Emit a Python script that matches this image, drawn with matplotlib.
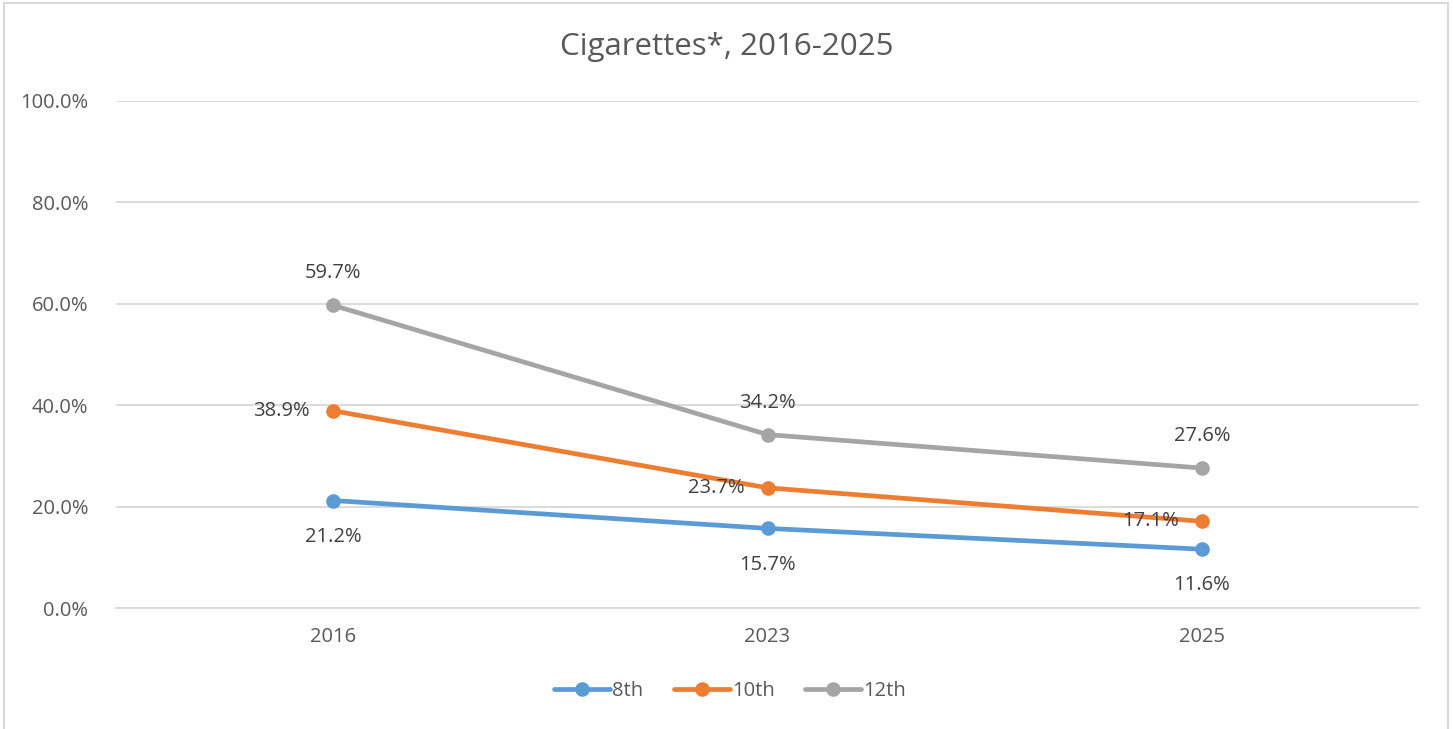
import matplotlib
matplotlib.use("Agg")
import matplotlib.pyplot as plt
from matplotlib.patches import Rectangle

years = ["2016", "2023", "2025"]
grade_8 = [21.2, 15.7, 11.6]
grade_10 = [38.9, 23.7, 17.1]
grade_12 = [59.7, 34.2, 27.6]
series_names = ["8th", "10th", "12th"]
colors = ["#5B9BD5", "#ED7D31", "#A5A5A5"]
yticks = [0, 20, 40, 60, 80, 100]

plt.rcParams['font.family'] = ['Open Sans', 'DejaVu Sans']
text_color = "#595959"

fig = plt.figure(figsize=(14.53, 7.29), dpi=100)
fig.patches.append(Rectangle((4/1453, -0.1), 1444/1453, (726/729) + 0.1,
                             transform=fig.transFigure, fill=False,
                             edgecolor="#D9D9D9", linewidth=1.5))
ax = fig.add_axes([116/1453, 121/729, 1303/1453, 507/729])

x = list(range(len(years)))
series = [grade_8, grade_10, grade_12]
for vals, name, c in zip(series, series_names, colors):
    ax.plot(x, vals, color=c, linewidth=3.4, marker="o", markersize=9.5,
            label=name, solid_capstyle="round", zorder=3)

label_fs = 14.5
for xi, v in zip(x, grade_8):
    ax.annotate(f"{v:.1f}%", (xi, v), xytext=(0, -26), textcoords="offset points",
                ha="center", va="center", fontsize=label_fs, color="#404040")
for xi, v in zip(x, grade_10):
    ax.annotate(f"{v:.1f}%", (xi, v), xytext=(-37, 0), textcoords="offset points",
                ha="center", va="center", fontsize=label_fs, color="#404040")
for xi, v in zip(x, grade_12):
    ax.annotate(f"{v:.1f}%", (xi, v), xytext=(0, 23), textcoords="offset points",
                ha="center", va="center", fontsize=label_fs, color="#404040")

ax.set_xlim(-0.5, 2.5)
ax.set_ylim(0, 100)
ax.set_yticks(yticks)
ax.set_yticklabels([f"{t:.1f}%" for t in yticks])
ax.set_xticks(x)
ax.set_xticklabels(years)
ax.tick_params(axis="both", length=0, labelsize=14.5, labelcolor=text_color)
ax.tick_params(axis="y", pad=20)
ax.tick_params(axis="x", pad=14)
ax.grid(axis="y", color="#D9D9D9", linewidth=1.3)
ax.set_axisbelow(True)
for s in ["top", "right", "left"]:
    ax.spines[s].set_visible(False)
ax.spines["bottom"].set_color("#D9D9D9")
ax.spines["bottom"].set_linewidth(1.3)

fig.text(0.5, 1 - 47/729, "Cigarettes*, 2016-2025", ha="center", va="center",
         fontsize=22.5, color=text_color)

leg = fig.legend(loc="center", bbox_to_anchor=(730/1453, 1 - 691/729), ncol=3,
                 frameon=False, fontsize=14.5, handlelength=2.8, columnspacing=1.5,
                 handletextpad=0.1)
for t in leg.get_texts():
    t.set_color(text_color)

fig.savefig("out.png", dpi=100)
